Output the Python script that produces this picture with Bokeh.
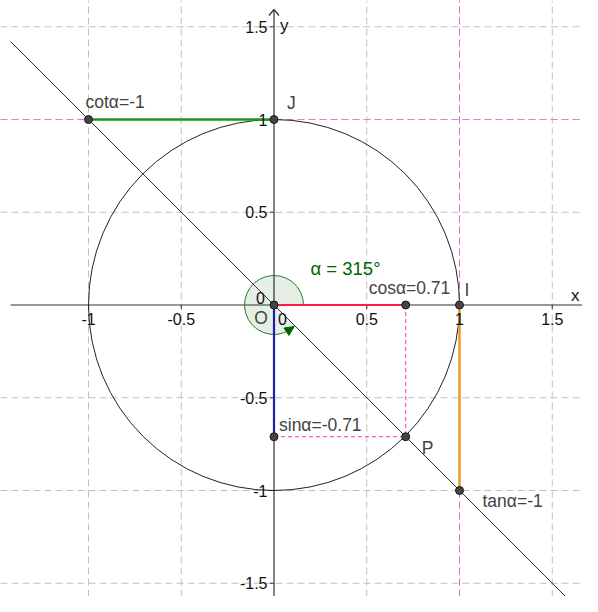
import math
from bokeh.plotting import figure
from bokeh.models import Range1d, ColumnDataSource
from bokeh.core.properties import value
from bokeh.embed import file_html
from bokeh.resources import INLINE

# ---- data ----
alpha_deg = 315
cos_a = 0.71
sin_a = -0.71
tan_a = -1
cot_a = -1
x_ticks = [-1, -0.5, 0.5, 1, 1.5]
x_tick_labels = ["-1", "-0.5", "0.5", "1", "1.5"]
y_ticks = [-1.5, -1, -0.5, 0.5, 1, 1.5]
y_tick_labels = ["-1.5", "-1", "-0.5", "0.5", "1", "1.5"]
label_cos = "cosα=0.71"
label_sin = "sinα=-0.71"
label_tan = "tanα=-1"
label_cot = "cotα=-1"
label_alpha = "α = 315°"

# ---- layout ----
W, H = 582, 596
PX = 185.5  # pixels per unit
X0, Y0 = 273.5, 304.5  # origin in figure pixels
xmin, xmax = -X0 / PX, (W - X0) / PX
ymin, ymax = -(H - Y0) / PX, Y0 / PX
S = 1.0 / PX

FONT = value("Liberation Sans")

p = figure(width=W, height=H, x_range=Range1d(xmin, xmax), y_range=Range1d(ymin, ymax),
           x_axis_type=None, y_axis_type=None, toolbar_location=None,
           output_backend="svg", min_border=0, outline_line_color=None,
           background_fill_color="white", border_fill_color="white")
p.xgrid.visible = False
p.ygrid.visible = False

# grid
p.segment(x0=x_ticks, y0=[ymin] * len(x_ticks), x1=x_ticks, y1=[ymax] * len(x_ticks),
          line_color="#c0c0c0", line_width=1, line_dash="7 4")
p.segment(x0=[xmin] * len(y_ticks), y0=y_ticks, x1=[xmax] * len(y_ticks), y1=y_ticks,
          line_color="#c0c0c0", line_width=1, line_dash="7 4")

# tangent lines x=1 and y=1
p.segment(x0=[1], y0=[ymin], x1=[1], y1=[ymax], line_color="#e06ad0", line_width=1, line_dash="7 4")
p.segment(x0=[xmin], y0=[1], x1=[xmax], y1=[1], line_color="#e67ad4", line_width=1, line_dash="7 4")

# axes
p.segment(x0=[xmin + 10 * S, 0], y0=[0, ymin], x1=[xmax, 0], y1=[0, ymax - 9 * S],
          line_color="#333333", line_width=1.2)
p.segment(x0=x_ticks, y0=[0] * len(x_ticks), x1=x_ticks, y1=[-4 * S] * len(x_ticks),
          line_color="#333333", line_width=1)
p.segment(x0=[0] * len(y_ticks), y0=y_ticks, x1=[-4 * S] * len(y_ticks), y1=y_ticks,
          line_color="#333333", line_width=1)
# y arrow
p.segment(x0=[-5 * S, 5 * S], y0=[ymax - 15 * S] * 2, x1=[0, 0], y1=[ymax - 9 * S] * 2,
          line_color="#333333", line_width=1.2)

# unit circle
p.circle(x=[0], y=[0], radius=1, fill_color=None, line_color="#222222", line_width=1)

# angle sector
r_ang = 29.5 * S
a_rad = math.radians(alpha_deg)
p.wedge(x=[0], y=[0], radius=r_ang, start_angle=0, end_angle=a_rad,
        fill_color="#006400", fill_alpha=0.1, line_color="#2a7a2a", line_width=1)

# terminal line through O and P
slope = sin_a / cos_a
lx0 = xmin + 10 * S
p.line(x=[lx0, xmax], y=[slope * lx0, slope * xmax], line_color="#333333", line_width=1)

# projections
p.segment(x0=[cos_a, 0], y0=[0, sin_a], x1=[cos_a, cos_a], y1=[sin_a, sin_a],
          line_color="#ff33cc", line_width=1, line_dash="4 3")

# coloured segments
p.segment(x0=[0], y0=[0], x1=[cos_a], y1=[0], line_color="#ff1a4a", line_width=2.2)
p.segment(x0=[0], y0=[0], x1=[0], y1=[sin_a], line_color="#1f1fa8", line_width=2.2)
p.segment(x0=[1], y0=[0], x1=[1], y1=[tan_a], line_color="#e89a2c", line_width=2.5)
p.segment(x0=[cot_a], y0=[1], x1=[0], y1=[1], line_color="#179a17", line_width=2.5)

# arrowhead of angle (triangle along the arc, pointing in the direction of rotation)
phi_t = a_rad - math.radians(2)
phi_b = a_rad - math.radians(20)
tip = (r_ang * math.cos(phi_t), r_ang * math.sin(phi_t))
bc = (r_ang * math.cos(phi_b), r_ang * math.sin(phi_b))
dx, dy = tip[0] - bc[0], tip[1] - bc[1]
ln = math.hypot(dx, dy)
nx, ny = -dy / ln * 4.5 * S, dx / ln * 4.5 * S
p.patch(x=[tip[0], bc[0] + nx, bc[0] - nx], y=[tip[1], bc[1] + ny, bc[1] - ny],
        fill_color="#006400", line_color="#006400", line_width=1)

# points
pts_x = [0, 1, 0, cos_a, cos_a, 0, 1, cot_a]
pts_y = [0, 0, 1, sin_a, 0, sin_a, tan_a, 1]
p.scatter(x=pts_x, y=pts_y, size=8, fill_color="#444444", line_color="#1a1a1a", line_width=1)

# tick labels
p.text(x=x_ticks, y=[-13.5 * S] * len(x_ticks), text=x_tick_labels, text_font=FONT,
       text_font_size="16px", text_color="#111111", text_align="center", text_baseline="middle")
p.text(x=[-6.5 * S] * len(y_ticks), y=y_ticks, text=y_tick_labels, text_font=FONT,
       text_font_size="16px", text_color="#111111", text_align="right", text_baseline="middle")
p.text(x=[-13.5 * S, 8.5 * S], y=[7 * S, -13.5 * S], text=["0", "0"], text_font=FONT,
       text_font_size="16px", text_color="#111111", text_align="center", text_baseline="middle")

# point labels
lab = ColumnDataSource(dict(
    x=[cot_a - 3 * S, 13 * S, cos_a - 37 * S, 1 + 5 * S, -13 * S, cos_a + 16 * S,
       5 * S, 1 + 23 * S],
    y=[1 + 18 * S, 1 + 17 * S, 17 * S, 15 * S, -13 * S, sin_a - 11 * S,
       sin_a + 12 * S, tan_a - 10 * S],
    text=[label_cot, "J", label_cos, "I", "O", "P", label_sin, label_tan],
    align=["left", "left", "left", "left", "center", "left", "left", "left"],
))
p.text(x="x", y="y", text="text", source=lab, text_font=FONT, text_font_size="17.5px",
       text_color="#444444", text_align="align", text_baseline="middle")

# axis names
p.text(x=[xmax - 3 * S, 6 * S], y=[9.5 * S, 1.5 + 1 * S], text=["x", "y"], text_font=FONT,
       text_font_size="17px", text_color="#111111", text_align=["right", "left"],
       text_baseline="middle")

# alpha label
p.text(x=[36.5 * S], y=[36.5 * S], text=[label_alpha], text_font=FONT, text_font_size="18.5px",
       text_color="#006400", text_align="left", text_baseline="middle")

open("out.html", "w").write(file_html(p, INLINE))
